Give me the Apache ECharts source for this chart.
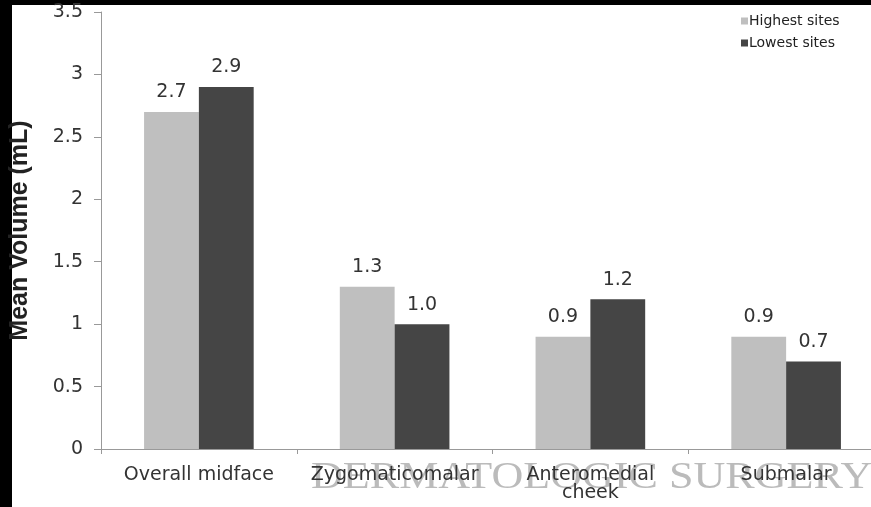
<!DOCTYPE html>
<html>
<head>
<meta charset="utf-8">
<script src="https://cdn.jsdelivr.net/npm/echarts@6/dist/echarts.min.js"></script>
<style>
html,body{margin:0;padding:0;background:#000;overflow:hidden;}
#chart{width:900px;height:507px;}
</style>
</head>
<body>
<div id="chart"></div>
<script>
const categories = ['Overall midface', 'Zygomaticomalar', 'Anteromedial\ncheek', 'Submalar'];
const highestSites = [2.7, 1.3, 0.9, 0.9];
const lowestSites = [2.9, 1.0, 1.2, 0.7];
const yTicks = [0, 0.5, 1, 1.5, 2, 2.5, 3, 3.5];

const FONT = '"DejaVu Sans", Verdana, sans-serif';
const chart = echarts.init(document.getElementById('chart'), null, {renderer: 'canvas'});

const labelCfg = {
  show: true,
  position: 'top',
  distance: 10,
  color: '#333',
  fontSize: 19,
  fontFamily: FONT,
  formatter: p => p.value.toFixed(1)
};

chart.setOption({
  backgroundColor: '#000',
  animation: false,
  graphic: [
    {
      type: 'rect',
      z: -100,
      shape: {x: 12, y: 5, width: 1000, height: 600},
      style: {fill: '#fff'},
      silent: true
    },
    {
      type: 'text',
      z: -50,
      x: 311,
      y: 497,
      scaleX: 1.16,
      style: {
        text: 'DERMATOLOGIC SURGERY',
        font: '38px "Liberation Serif", "Times New Roman", serif',
        fill: 'rgba(150,150,150,0.65)',
        verticalAlign: 'bottom'
      },
      silent: true
    }
  ],
  legend: {
    orient: 'vertical',
    left: 736,
    top: 9,
    itemWidth: 7,
    itemHeight: 7,
    itemGap: 8,
    icon: 'rect',
    textStyle: {color: '#222', fontSize: 14, fontFamily: FONT, padding: [0,0,0,-4]},
    data: ['Highest sites', 'Lowest sites']
  },
  grid: {left: 101, top: 12, width: 783, height: 437, containLabel: false},
  xAxis: {
    type: 'category',
    data: categories,
    axisLine: {show: true, lineStyle: {color: '#999', width: 1}},
    axisTick: {show: true, length: 5, lineStyle: {color: '#999'}},
    axisLabel: {color: '#333', fontSize: 19, fontFamily: FONT, margin: 17, lineHeight: 18, interval: 0}
  },
  yAxis: {
    type: 'value',
    min: 0,
    max: 3.5,
    interval: 0.5,
    name: 'Mean Volume (mL)',
    nameLocation: 'middle',
    nameGap: 68,
    nameTextStyle: {color: '#222', fontSize: 25, fontWeight: 'bold', fontFamily: '"Liberation Sans", Arial, sans-serif'},
    splitLine: {show: false},
    axisLine: {show: true, lineStyle: {color: '#999', width: 1}},
    axisTick: {show: true, length: 7, lineStyle: {color: '#999'}},
    axisLabel: {
      color: '#333', fontSize: 19, fontFamily: FONT, margin: 18,
      formatter: v => yTicks.includes(v) ? String(v) : ''
    }
  },
  series: [
    {
      name: 'Highest sites',
      type: 'bar',
      data: highestSites,
      barGap: '0%',
      barCategoryGap: '44%',
      itemStyle: {color: '#bfbfbf'},
      label: labelCfg
    },
    {
      name: 'Lowest sites',
      type: 'bar',
      data: lowestSites,
      itemStyle: {color: '#454545'},
      label: labelCfg
    }
  ]
});
</script>
</body>
</html>
